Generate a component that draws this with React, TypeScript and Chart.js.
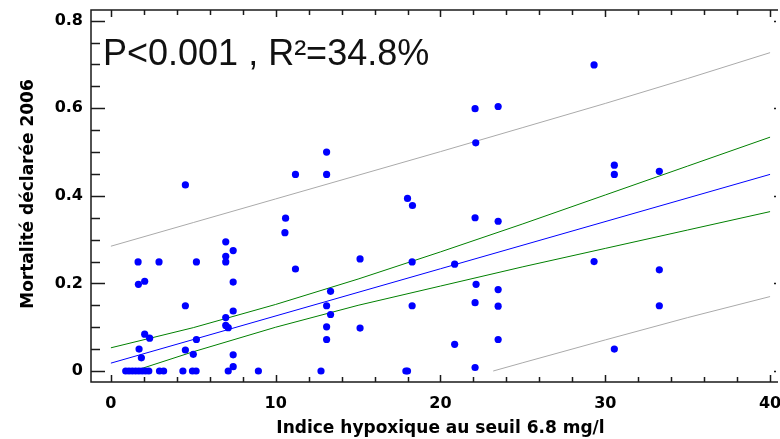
import React, { useEffect, useRef } from "react";
import { Chart, registerables } from "chart.js";

Chart.register(...registerables);

// Observed points (Indice hypoxique, Mortalité déclarée)
const POINT_X = [
  0.9, 1.1, 1.3, 1.5, 1.7, 1.9, 2.1, 2.3, 2.95, 3.2, 4.37, 4.95, 5.17, 7.12, 8.95, 12.75, 17.9, 18.0,
  1.65, 2.92, 5.19, 1.67, 2.05, 4.52, 6.97, 7.42, 6.97, 6.97, 7.42, 10.56, 10.6, 11.2, 7.42, 6.97, 6.97,
  7.12, 2.05, 2.35, 5.19, 1.71, 4.52, 5.0, 1.85, 7.42, 7.42,
  4.52, 11.2, 13.09, 13.09,
  15.12, 15.12, 18.28, 18.28, 20.86, 20.86, 22.16, 22.1, 22.1, 13.33, 13.09, 13.33, 13.09, 13.09,
  23.5, 23.5, 23.5, 29.32, 30.55, 33.28, 33.28,
  18.0, 18.3, 22.1, 22.14, 22.1, 23.5, 23.5, 29.32, 30.55, 30.55, 33.28,
];
const POINT_Y = [
  0, 0, 0, 0, 0, 0, 0, 0, 0, 0, 0, 0, 0, 0, 0, 0, 0, 0,
  0.249, 0.249, 0.249, 0.198, 0.205, 0.149, 0.295, 0.275, 0.262, 0.249, 0.203, 0.316, 0.349, 0.233, 0.137, 0.122, 0.104,
  0.099, 0.084, 0.075, 0.072, 0.05, 0.048, 0.038, 0.03, 0.037, 0.01,
  0.425, 0.449, 0.5, 0.449,
  0.256, 0.098, 0.249, 0.149, 0.244, 0.061, 0.198, 0.156, 0.008, 0.182, 0.149, 0.129, 0.101, 0.072,
  0.186, 0.148, 0.072, 0.25, 0.05, 0.231, 0.149,
  0.394, 0.378, 0.599, 0.521, 0.35, 0.604, 0.342, 0.699, 0.47, 0.449, 0.456,
];

// Fitted line and bands
const FIT_X = [0, 40];
const FIT_Y = [0.018, 0.449];
const CONF_UP_X = [0, 5, 10, 15, 20, 25, 30, 35, 40];
const CONF_UP_Y = [0.053, 0.099, 0.152, 0.21, 0.272, 0.336, 0.402, 0.468, 0.534];
const CONF_LO_X = [1.4, 5, 10, 15, 20, 25, 30, 35, 40];
const CONF_LO_Y = [0, 0.044, 0.1, 0.15, 0.194, 0.238, 0.28, 0.322, 0.364];
const PRED_UP_X = [0, 5, 10, 15, 20, 25, 30, 35, 40];
const PRED_UP_Y = [0.285, 0.339, 0.393, 0.447, 0.501, 0.556, 0.611, 0.668, 0.727];
const PRED_LO_X = [23.2, 25, 30, 35, 40];
const PRED_LO_Y = [0, 0.019, 0.071, 0.122, 0.17];

const X_TICKS = [0, 10, 20, 30, 40];
const X_TICK_LABELS = ["0", "10", "20", "30", "40"];
const Y_TICKS = [0, 0.2, 0.4, 0.6, 0.8];
const Y_TICK_LABELS = ["0", "0.2", "0.4", "0.6", "0.8"];

const X_TITLE = "Indice hypoxique au seuil 6.8 mg/l";
const Y_TITLE = "Mortalité déclarée 2006";
const ANNOTATION = "P<0.001 , R²=34.8%";

const zip = (xs: number[], ys: number[]) => xs.map((x, i) => ({ x, y: ys[i] }));

const decorPlugin = {
  id: "decor",
  afterDraw(chart: any) {
    const { ctx, chartArea, scales } = chart;
    const xs = scales.x;
    const ys = scales.y;
    const { left, top, bottom, right } = chartArea;
    ctx.save();
    ctx.strokeStyle = "#1a1a1a";
    ctx.lineWidth = 1.5;
    // frame
    ctx.beginPath();
    ctx.moveTo(right + 2, top);
    ctx.lineTo(left, top);
    ctx.lineTo(left, bottom);
    ctx.lineTo(right + 2, bottom);
    ctx.stroke();
    // y ticks
    for (let k = 0; k <= 16; k++) {
      const v = k * 0.05;
      const y = Math.round(ys.getPixelForValue(v)) + 0.5;
      const major = k % 4 === 0;
      ctx.beginPath();
      ctx.moveTo(left, y);
      ctx.lineTo(left + (major ? 14 : 9), y);
      ctx.stroke();
      if (major) {
        ctx.beginPath();
        ctx.moveTo(right - 2, y);
        ctx.lineTo(right, y);
        ctx.stroke();
      }
    }
    // x ticks
    for (let k = 0; k <= 20; k++) {
      const v = k * 2;
      const x = Math.round(xs.getPixelForValue(v)) + 0.5;
      const major = k % 5 === 0;
      const len = major ? 7 : 5;
      ctx.beginPath();
      ctx.moveTo(x, top);
      ctx.lineTo(x, top + len);
      ctx.moveTo(x, bottom);
      ctx.lineTo(x, bottom - len);
      ctx.stroke();
    }
    // annotation
    ctx.fillStyle = "#111";
    ctx.font = '36px "Liberation Sans", Arial, sans-serif';
    ctx.textAlign = "left";
    ctx.textBaseline = "alphabetic";
    ctx.fillText(ANNOTATION, 103, 65);
    // axis titles
    ctx.fillStyle = "#000";
    ctx.font = 'bold 17px "DejaVu Sans", Verdana, sans-serif';
    ctx.textAlign = "center";
    const cx = (xs.getPixelForValue(0) + xs.getPixelForValue(40)) / 2;
    ctx.fillText(X_TITLE, cx, 433);
    ctx.translate(33, (top + bottom) / 2 - 2);
    ctx.rotate(-Math.PI / 2);
    ctx.fillText(Y_TITLE, 0, 0);
    ctx.restore();
  },
};

export default function App() {
  const ref = useRef<HTMLCanvasElement | null>(null);
  useEffect(() => {
    document.body.style.margin = "0";
    document.body.style.overflow = "hidden";
    if (!ref.current) return;
    const lineDs = (label: string, data: any[], color: string) => ({
      label,
      data,
      showLine: true,
      borderColor: color,
      borderWidth: 1,
      pointRadius: 0,
      fill: false,
    });
    const chart = new Chart(ref.current, {
      type: "scatter",
      data: {
        datasets: [
          {
            label: "observations",
            data: zip(POINT_X, POINT_Y),
            backgroundColor: "#0000ff",
            borderColor: "#0000ff",
            borderWidth: 0,
            pointRadius: 3.6,
          },
          lineDs("fit", zip(FIT_X, FIT_Y), "#0000ff"),
          lineDs("conf+", zip(CONF_UP_X, CONF_UP_Y), "#008000"),
          lineDs("conf-", zip(CONF_LO_X, CONF_LO_Y), "#008000"),
          lineDs("pred+", zip(PRED_UP_X, PRED_UP_Y), "#aaaaaa"),
          lineDs("pred-", zip(PRED_LO_X, PRED_LO_Y), "#aaaaaa"),
        ] as any,
      },
      options: {
        animation: false,
        responsive: false,
        devicePixelRatio: 1,
        layout: { padding: { top: 10, left: 0, right: 0, bottom: 0 } },
        plugins: { legend: { display: false }, tooltip: { enabled: false } },
        scales: {
          x: {
            type: "linear",
            min: -1.207,
            max: 40.36,
            grid: { display: false, drawTicks: false },
            border: { display: false },
            afterBuildTicks: (s: any) => {
              s.ticks = X_TICKS.map((value) => ({ value }));
            },
            afterFit: (s: any) => {
              s.height = 57;
              s.paddingLeft = 0;
              s.paddingRight = 0;
            },
            ticks: {
              autoSkip: false,
              maxRotation: 0,
              padding: 12,
              color: "#000",
              font: { family: '"DejaVu Sans", Verdana, sans-serif', size: 16, weight: "bold" },
              callback: (_v: any, i: number) => X_TICK_LABELS[i],
            },
          },
          y: {
            type: "linear",
            min: -0.0251,
            max: 0.8244,
            grid: { display: false, drawTicks: false },
            border: { display: false },
            afterBuildTicks: (s: any) => {
              s.ticks = Y_TICKS.map((value) => ({ value }));
            },
            afterFit: (s: any) => {
              s.width = 91;
              s.paddingTop = 0;
              s.paddingBottom = 0;
            },
            ticks: {
              autoSkip: false,
              padding: 8,
              color: "#000",
              font: { family: '"DejaVu Sans", Verdana, sans-serif', size: 16, weight: "bold" },
              callback: (_v: any, i: number) => Y_TICK_LABELS[i],
            },
          },
        },
      } as any,
      plugins: [decorPlugin],
    });
    return () => chart.destroy();
  }, []);
  return (
    <div style={{ position: "fixed", left: 0, top: 0, width: 780, height: 439, background: "#fff" }}>
      <canvas ref={ref} width={780} height={439} style={{ display: "block" }} />
    </div>
  );
}
